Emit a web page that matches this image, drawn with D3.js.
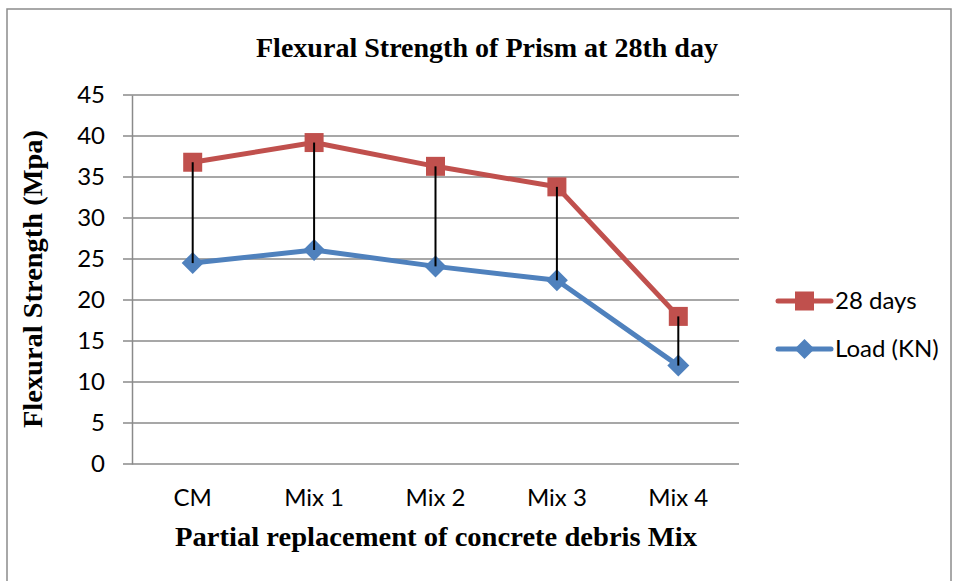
<!DOCTYPE html>
<html lang="en">
<head>
<meta charset="utf-8">
<title>Flexural Strength of Prism</title>
<script src="https://cdn.jsdelivr.net/npm/d3@7/dist/d3.min.js"></script>
<style>
  body { margin: 0; background: #fff; }
  .tick text { font-family: Lato, "Open Sans", sans-serif; font-size: 24px; fill: #000; }
</style>
</head>
<body>
<script>
// data
const categories = ["CM", "Mix 1", "Mix 2", "Mix 3", "Mix 4"];
const days28 = [36.8, 39.2, 36.3, 33.8, 18.0];
const loadKN = [24.5, 26.1, 24.1, 22.4, 12.0];
const yTicks = [0, 5, 10, 15, 20, 25, 30, 35, 40, 45];

const w = 954, h = 581;
const plotL = 132, plotR = 739, plotT = 95, plotB = 464;

const svg = d3.select("body").append("svg")
    .attr("width", w).attr("height", h);

// chart frame
svg.append("rect")
    .attr("x", 7).attr("y", 9).attr("width", 944).attr("height", 600)
    .attr("fill", "none").attr("stroke", "#8c8c8c").attr("stroke-width", 1.5);

const x = d3.scaleBand().domain(categories).range([plotL, plotR]);
const y = d3.scaleLinear().domain([0, 45]).range([plotB, plotT]);
const cx = c => x(c) + x.bandwidth() / 2;

// gridlines
svg.append("g")
    .selectAll("line").data(yTicks).enter().append("line")
    .attr("x1", plotL - 9).attr("x2", plotR)
    .attr("y1", d => y(d)).attr("y2", d => y(d))
    .attr("stroke", "#8a8a8a").attr("stroke-width", 1.5);

// y axis
const yAxis = svg.append("g")
    .attr("transform", `translate(${plotL},0)`)
    .call(d3.axisLeft(y).tickValues(yTicks).tickSize(0).tickPadding(27));
yAxis.select(".domain").attr("stroke", "#8a8a8a").attr("stroke-width", 1.5);

// x axis labels
const xAxis = svg.append("g")
    .attr("transform", `translate(0,${plotB})`)
    .call(d3.axisBottom(x).tickSize(0).tickPadding(25));
xAxis.select(".domain").remove();

const line = d3.line()
    .x((d, i) => cx(categories[i]))
    .y(d => y(d));

const red = "#c0504d", blue = "#4f81bd";

// Load (KN)
svg.append("path").datum(loadKN)
    .attr("d", line).attr("fill", "none")
    .attr("stroke", blue).attr("stroke-width", 5).attr("stroke-linejoin", "round");
svg.append("g").selectAll("path").data(loadKN).enter().append("path")
    .attr("d", "M0,-11L11,0L0,11L-11,0Z")
    .attr("transform", (d, i) => `translate(${cx(categories[i])},${y(d)})`)
    .attr("fill", blue);

// 28 days
svg.append("path").datum(days28)
    .attr("d", line).attr("fill", "none")
    .attr("stroke", red).attr("stroke-width", 5).attr("stroke-linejoin", "round");
svg.append("g").selectAll("rect").data(days28).enter().append("rect")
    .attr("x", (d, i) => cx(categories[i]) - 9.5)
    .attr("y", d => y(d) - 9.5)
    .attr("width", 19).attr("height", 19)
    .attr("fill", red);

// high-low lines drawn over the markers
svg.append("g").selectAll("line").data(categories).enter().append("line")
    .attr("x1", d => cx(d))
    .attr("x2", d => cx(d))
    .attr("y1", (d, i) => y(days28[i]))
    .attr("y2", (d, i) => y(loadKN[i]))
    .attr("stroke", "#000").attr("stroke-width", 2);

// titles
const serif = "'Liberation Serif', serif";
svg.append("text")
    .attr("x", 487).attr("y", 57)
    .attr("text-anchor", "middle")
    .attr("font-family", serif).attr("font-weight", "bold")
    .attr("font-size", 27)
    .attr("textLength", 462).attr("lengthAdjust", "spacingAndGlyphs")
    .text("Flexural Strength of Prism at 28th day");

svg.append("text")
    .attr("x", 436).attr("y", 546)
    .attr("text-anchor", "middle")
    .attr("font-family", serif).attr("font-weight", "bold")
    .attr("font-size", 27)
    .attr("textLength", 522).attr("lengthAdjust", "spacingAndGlyphs")
    .text("Partial replacement of concrete debris Mix");

svg.append("text")
    .attr("transform", "translate(42,279) rotate(-90)")
    .attr("text-anchor", "middle")
    .attr("font-family", serif).attr("font-weight", "bold")
    .attr("font-size", 27)
    .attr("textLength", 298).attr("lengthAdjust", "spacingAndGlyphs")
    .text("Flexural Strength (Mpa)");

// legend
const legend = [
  { name: "28 days", color: red, shape: "square", yy: 301 },
  { name: "Load (KN)", color: blue, shape: "diamond", yy: 349 }
];
const lg = svg.append("g").selectAll("g").data(legend).enter().append("g")
    .attr("transform", d => `translate(778,${d.yy})`);
lg.append("line")
    .attr("x1", 0).attr("x2", 53)
    .attr("stroke", d => d.color).attr("stroke-width", 5).attr("stroke-linecap", "round");
lg.filter(d => d.shape === "square").append("rect")
    .attr("x", 17).attr("y", -9.5).attr("width", 19).attr("height", 19)
    .attr("fill", d => d.color);
lg.filter(d => d.shape === "diamond").append("path")
    .attr("d", "M26.5,-10L36.5,0L26.5,10L16.5,0Z")
    .attr("fill", d => d.color);
lg.append("text")
    .attr("x", 57).attr("y", 8)
    .attr("font-family", "Lato, 'Open Sans', sans-serif").attr("font-size", 24)
    .text(d => d.name);
</script>
</body>
</html>
